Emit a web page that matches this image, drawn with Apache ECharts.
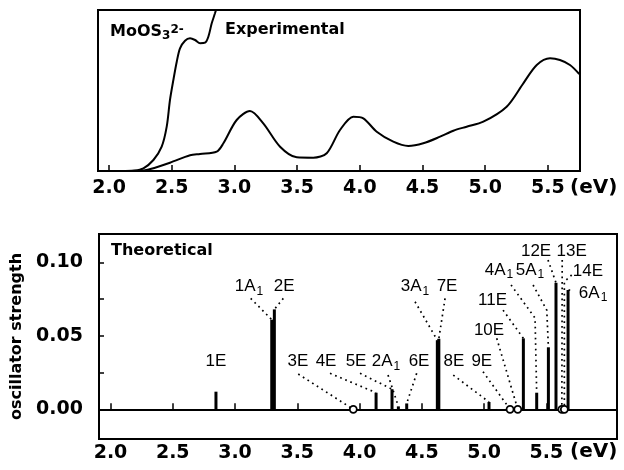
<!DOCTYPE html>
<html><head><meta charset="utf-8">
<script src="https://cdn.jsdelivr.net/npm/echarts@6/dist/echarts.min.js"></script>
<style>html,body{margin:0;padding:0;background:#fff}#c{width:624px;height:470px}</style>
</head><body><div id="c"></div>
<script>
// ---- Experimental spectrum (arbitrary absorbance units) ----
const expEnergyA = [2.10, 2.20, 2.274, 2.354, 2.420, 2.460, 2.486, 2.513, 2.540, 2.566, 2.606, 2.646, 2.686, 2.726, 2.766, 2.792, 2.819, 2.845, 2.87];
const expAbsA    = [0.00, 0.005, 0.027, 0.11, 0.243, 0.443, 0.71, 0.91, 1.093, 1.227, 1.303, 1.327, 1.31, 1.277, 1.283, 1.343, 1.477, 1.577, 1.68];
const expEnergyB = [2.25, 2.33, 2.486, 2.646, 2.726, 2.859, 2.912, 3.018, 3.124, 3.230, 3.364, 3.497, 3.629, 3.736, 3.842, 3.948, 4.028, 4.135, 4.267, 4.387, 4.506, 4.640, 4.746, 4.852, 4.985, 5.171, 5.304, 5.411, 5.517, 5.596, 5.676, 5.750];
const expAbsB    = [0.00, 0.02, 0.083, 0.157, 0.17, 0.193, 0.277, 0.51, 0.60, 0.477, 0.243, 0.137, 0.133, 0.177, 0.41, 0.543, 0.527, 0.393, 0.293, 0.25, 0.277, 0.343, 0.403, 0.443, 0.493, 0.643, 0.877, 1.06, 1.127, 1.11, 1.06, 0.97];

// ---- Theoretical transitions ----
const transNames    = ['1E','1A1','2E','3E','4E','5E','2A1','6E','3A1','7E','8E','9E','10E','11E','4A1','5A1','12E','13E','14E','6A1'];
const transEnergy   = [2.847, 3.295, 3.316, 3.950, 4.133, 4.261, 4.312, 4.379, 4.625, 4.637, 5.040, 5.209, 5.271, 5.316, 5.423, 5.517, 5.578, 5.625, 5.645, 5.675];
const transStrength = [0.012, 0.061, 0.068, 0, 0.0113, 0.0137, 0.002, 0.004, 0.047, 0.048, 0.005, 0, 0, 0.0483, 0.0113, 0.0422, 0.0861, 0, 0, 0.0812];

// label anchor (energy, strength) for each transition name
const labelEnergy   = [2.847, 3.112, 3.394, 3.506, 3.731, 3.972, 4.213, 4.478, 4.446, 4.703, 4.759, 4.982, 5.040, 5.068, 5.120, 5.369, 5.418, 5.704, 5.835, 5.876];
const labelStrength = [0.0324, 0.0834, 0.0834, 0.0324, 0.0324, 0.0324, 0.0324, 0.0324, 0.0834, 0.0834, 0.0324, 0.0324, 0.0539, 0.0744, 0.0948, 0.0948, 0.1072, 0.1072, 0.0936, 0.0789];
// leader start near the label (null = no leader), optional bend point
const leaderStartE = [null, 3.126, 3.388, 3.508, 3.763, 4.004, 4.229, 4.459, 4.446, 4.687, 4.753, 4.992, 5.102, 5.153, 5.217, 5.394, 5.514, 5.628, 5.704, 5.692];
const leaderStartS = [null, 0.0755, 0.0755, 0.0240, 0.0245, 0.0245, 0.0233, 0.0245, 0.0732, 0.0755, 0.0233, 0.0256, 0.0483, 0.0675, 0.0846, 0.0846, 0.1016, 0.1016, 0.0914, 0.0811];
const leaderBendE  = [null, null, null, null, null, null, null, null, null, null, null, null, null, null, 5.410, 5.504, null, null, 5.645, null];
const leaderBendS  = [null, null, null, null, null, null, null, null, null, null, null, null, null, null, 0.0621, 0.0675, null, null, 0.0868, null];

const energyTicks = [2.0, 2.5, 3.0, 3.5, 4.0, 4.5, 5.0, 5.5];
const strengthTicks = [0, 0.05, 0.10];
const strengthAllTicks = [0, 0.025, 0.05, 0.075, 0.10];

const BOLD = 'DejaVu Sans';
const REG = 'Liberation Sans';

function fmtName(n) {
  const m = n.match(/^(\d+A)(1)$/);
  if (m) return '{m|' + m[1] + '}{s|' + m[2] + '}';
  return '{m|' + n + '}';
}

const dotted = { color: '#000', width: 1.7, type: [1.7, 3.8] };

const series = [];
// Experimental curves
series.push({
  type: 'line', xAxisIndex: 0, yAxisIndex: 0, symbol: 'none', smooth: 0.3,
  data: expEnergyA.map((e, i) => [e, expAbsA[i]]), lineStyle: { color: '#000', width: 2 }, clip: true
});
series.push({
  type: 'line', xAxisIndex: 0, yAxisIndex: 0, symbol: 'none', smooth: 0.3,
  data: expEnergyB.map((e, i) => [e, expAbsB[i]]), lineStyle: { color: '#000', width: 2 }, clip: true
});
// Leaders
transNames.forEach((n, i) => {
  if (leaderStartE[i] === null) return;
  const pts = [[leaderStartE[i], leaderStartS[i]]];
  if (leaderBendE[i] !== null) pts.push([leaderBendE[i], leaderBendS[i]]);
  pts.push([transEnergy[i], transStrength[i]]);
  series.push({ type: 'line', xAxisIndex: 1, yAxisIndex: 1, symbol: 'none', data: pts, lineStyle: dotted, silent: true, z: 1 });
});
// Bars (oscillator strengths)
series.push({
  type: 'bar', xAxisIndex: 1, yAxisIndex: 1, barWidth: 3,
  data: transEnergy.map((e, i) => [e, transStrength[i]]).filter(d => d[1] > 0),
  itemStyle: { color: '#000' }, z: 3,
  markLine: {
    silent: true, symbol: 'none', label: { show: false },
    lineStyle: { color: '#000', width: 2, type: 'solid' },
    data: [{ yAxis: 0 }]
  }
});
// Zero-strength transitions (open circles)
series.push({
  type: 'scatter', xAxisIndex: 1, yAxisIndex: 1, symbol: 'circle', symbolSize: 7,
  data: transEnergy.map((e, i) => [e, transStrength[i]]).filter(d => d[1] === 0),
  itemStyle: { color: '#fff', borderColor: '#000', borderWidth: 1.8, opacity: 1 }, z: 5
});
// Transition labels
series.push({
  type: 'scatter', xAxisIndex: 1, yAxisIndex: 1, symbolSize: 0, itemStyle: { color: '#000' }, z: 6,
  data: transNames.map((n, i) => ({ value: [labelEnergy[i], labelStrength[i]], name: n })),
  label: {
    show: true, position: 'inside', color: '#000', textBorderWidth: 0, opacity: 1,
    formatter: p => fmtName(p.name),
    rich: {
      m: { fontFamily: REG, fontSize: 17, color: '#000', textBorderWidth: 0 },
      s: { fontFamily: REG, fontSize: 12, color: '#000', textBorderWidth: 0, padding: [9, 0, 0, 1] }
    }
  }
});

const boldLabel = { fontFamily: BOLD, fontWeight: 'bold', fontSize: 19, color: '#000' };

const option = {
  animation: false,
  backgroundColor: '#fff',
  title: [
    { text: '{a|MoOS}{b|3}{c|2-}', left: 110, top: 22, padding: 0,
      textStyle: { rich: {
        a: { fontFamily: BOLD, fontWeight: 'bold', fontSize: 16, color: '#000' },
        b: { fontFamily: BOLD, fontWeight: 'bold', fontSize: 12, color: '#000', padding: [8, 0, 0, 0] },
        c: { fontFamily: BOLD, fontWeight: 'bold', fontSize: 12, color: '#000', padding: [0, 0, 4, 0] }
      } } },
    { text: 'Experimental', left: 225, top: 22, padding: 0,
      textStyle: { fontFamily: BOLD, fontWeight: 'bold', fontSize: 16, color: '#000' } },
    { text: 'Theoretical', left: 111, top: 243, padding: 0,
      textStyle: { fontFamily: BOLD, fontWeight: 'bold', fontSize: 16, color: '#000' } },
    { text: '(eV)', left: 570, top: 178, padding: 0,
      textStyle: { fontFamily: BOLD, fontWeight: 'bold', fontSize: 20, color: '#000' } },
    { text: '(eV)', left: 570, top: 442, padding: 0,
      textStyle: { fontFamily: BOLD, fontWeight: 'bold', fontSize: 20, color: '#000' } }
  ],
  grid: [
    { left: 98, top: 10, width: 482, height: 161, show: true, borderColor: '#000', borderWidth: 2, containLabel: false },
    { left: 99, top: 234, width: 518, height: 205, show: true, borderColor: '#000', borderWidth: 2, containLabel: false }
  ],
  xAxis: [
    { type: 'value', gridIndex: 0, min: 1.912, max: 5.756,
      axisLine: { show: false }, splitLine: { show: false },
      axisTick: { show: true, inside: true, length: 6, lineStyle: { color: '#000', width: 1.5 }, customValues: energyTicks },
      axisLabel: { ...boldLabel, margin: 8, customValues: energyTicks, formatter: v => v.toFixed(1) } },
    { type: 'value', gridIndex: 1, min: 1.9076, max: 6.068,
      axisLine: { show: false }, splitLine: { show: false },
      axisTick: { show: true, inside: true, length: 6, lineStyle: { color: '#000', width: 1.5 }, customValues: energyTicks },
      axisLabel: { ...boldLabel, margin: 5, customValues: energyTicks, formatter: v => v.toFixed(1) } }
  ],
  yAxis: [
    { type: 'value', gridIndex: 0, min: 0, max: 1.61, show: false, splitLine: { show: false } },
    { type: 'value', gridIndex: 1, min: -0.0202, max: 0.1193,
      name: 'oscillator strength', nameLocation: 'middle', nameGap: 72,
      nameTextStyle: { fontFamily: BOLD, fontWeight: 'bold', fontSize: 16, color: '#000' },
      axisLine: { show: false }, splitLine: { show: false },
      axisTick: { show: true, inside: true, length: 5, lineStyle: { color: '#000', width: 1.5 }, customValues: strengthAllTicks },
      axisLabel: { ...boldLabel, margin: 16, customValues: strengthTicks, formatter: v => v.toFixed(2) } }
  ],
  series: series
};

const chart = echarts.init(document.getElementById('c'), null, { renderer: 'canvas' });
chart.setOption(option);
</script>
</body></html>
